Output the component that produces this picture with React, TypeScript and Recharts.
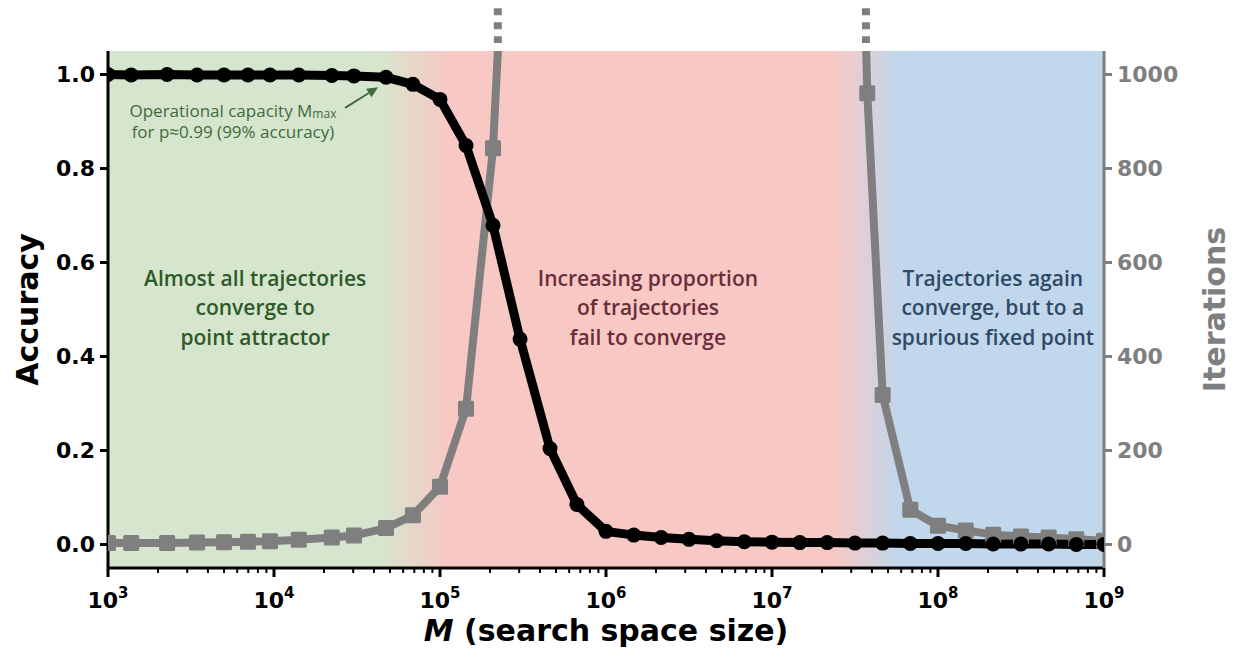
import React from 'react';
import {
  ComposedChart, Line, XAxis, YAxis, ReferenceArea, ReferenceLine, ReferenceDot, Label,
} from 'recharts';

// search space size M for every measured point (black curve)
const searchSize = [
  1000, 1380, 2270, 3440, 5000, 6970, 9460, 14100, 22300, 30300, 47300, 68700,
  100000, 143500, 208600, 303600, 460000, 668000,
  1e6, 1.47e6, 2.15e6, 3.16e6, 4.64e6, 6.81e6,
  1e7, 1.47e7, 2.15e7, 3.16e7, 4.64e7, 6.81e7,
  1e8, 1.47e8, 2.15e8, 3.16e8, 4.64e8, 6.81e8, 1e9,
];
const accuracy = [
  1.0, 0.999, 1.0, 0.999, 0.999, 0.999, 0.999, 0.999, 0.998, 0.997, 0.994, 0.979,
  0.947, 0.849, 0.679, 0.437, 0.204, 0.085,
  0.028, 0.02, 0.015, 0.011, 0.008, 0.006,
  0.005, 0.004, 0.004, 0.003, 0.003, 0.002,
  0.002, 0.002, 0.001, 0.001, 0.001, 0.0, 0.0,
];

// grey curve (iterations); values above the axis are clipped at the top
const iterSize = [
  1000, 1380, 2270, 3440, 5000, 6970, 9460, 14100, 22300, 30300, 47300, 68700,
  100000, 143500, 208600, 303600, 460000, 668000,
  1e6, 1.47e6, 2.15e6, 3.16e6, 4.64e6, 6.81e6,
  1e7, 1.47e7, 2.15e7, 3.16e7, 3.75e7, 4.64e7, 6.81e7,
  1e8, 1.47e8, 2.15e8, 3.16e8, 4.64e8, 6.81e8, 1e9,
];
const iterations = [
  3, 3, 3, 4, 5, 6, 7, 10, 15, 19, 35, 62,
  123, 289, 843, 2000, 2000, 2000,
  2000, 2000, 2000, 2000, 2000, 2000,
  2000, 2000, 2000, 2000, 960, 318, 74,
  40, 30, 21, 17, 15, 11, 8,
];

const accTicks = [0, 0.2, 0.4, 0.6, 0.8, 1.0];
const iterTicks = [0, 200, 400, 600, 800, 1000];
const decades = [3, 4, 5, 6, 7, 8, 9];

// background zones: green -> red -> blue
const greenEnd = 4.5e4;
const redStart = 1.1e5;
const redEnd = 2.4e7;
const blueStart = 5.9e7;
// where the grey curve leaves the top of the axes
const breakLeft = 2.23e5;
const breakRight = 3.68e7;

const xTicks: number[] = [];
decades.forEach((d) => {
  if (d === 9) { xTicks.push(1e9); return; }
  for (let k = 1; k <= 9; k++) xTicks.push(k * Math.pow(10, d));
});

const accData = searchSize.map((m, i) => ({ m, acc: accuracy[i] }));
const iterData = iterSize.map((m, i) => ({ m, it: iterations[i] }));

const frac = (m: number) => (Math.log10(m) - 3) / 6;

const AXIS_FONT = 'DejaVu Sans, sans-serif';
const NOTE_FONT = '"Open Sans", sans-serif';
const GREY = '#7f7f7f';
const NOTE_GREEN = '#3f6b3b';

const XTick = (props: any) => {
  const { x, y, payload } = props;
  const e = Math.log10(payload.value);
  const major = Math.abs(e - Math.round(e)) < 1e-6;
  return (
    <g>
      <line x1={x} x2={x} y1={y} y2={y + (major ? 9 : 5)} stroke="#000" strokeWidth={major ? 3 : 2} />
      {major && (
        <text x={x} y={y + 40} textAnchor="middle" fontFamily={AXIS_FONT} fontWeight="bold" fontSize={22} fill="#000">
          <tspan>10</tspan>
          <tspan dy={-10} fontSize={15}>{Math.round(e)}</tspan>
        </text>
      )}
    </g>
  );
};

const Square = (props: any) => {
  const { cx, cy, index } = props;
  if (cx == null || cy == null) return <g key={`s${index}`} />;
  return <rect key={`s${index}`} x={cx - 8} y={cy - 8} width={16} height={16} rx={1.5} fill={GREY} />;
};

const MultiText = ({ cx, cy, lines, color, size, gap }: any) => (
  <text x={cx} y={cy} textAnchor="middle" fontFamily={NOTE_FONT} fontWeight={600} fontSize={size} fill={color}>
    {lines.map((l: string, i: number) => (
      <tspan key={i} x={cx} y={cy + (i - (lines.length - 1) / 2) * gap} dominantBaseline="central">{l}</tspan>
    ))}
  </text>
);

const Arrow = (props: any) => {
  const { x1, y1, x2, y2 } = props;
  const ang = Math.atan2(y2 - y1, x2 - x1);
  const L = 11, W = 5;
  const bx = x2 - L * Math.cos(ang), by = y2 - L * Math.sin(ang);
  const px = -Math.sin(ang) * W, py = Math.cos(ang) * W;
  return (
    <g>
      <line x1={x1} y1={y1} x2={bx} y2={by} stroke={NOTE_GREEN} strokeWidth={2} />
      <polygon points={`${x2},${y2} ${bx + px},${by + py} ${bx - px},${by - py}`} fill={NOTE_GREEN} />
    </g>
  );
};

export default function App() {
  return (
    <div style={{ position: 'absolute', left: 0, top: 0, background: '#fff' }}>
      <ComposedChart width={1234} height={649} margin={{ top: 51, right: 60, bottom: 41, left: 48 }}>
        <defs>
          <linearGradient id="zones" x1="0" y1="0" x2="1" y2="0">
            <stop offset={frac(greenEnd)} stopColor="#d6e5cd" />
            <stop offset={frac(redStart)} stopColor="#f8c8c5" />
            <stop offset={frac(redEnd)} stopColor="#f8c8c5" />
            <stop offset={frac(blueStart)} stopColor="#c0d7ec" />
          </linearGradient>
        </defs>
        <XAxis
          dataKey="m" type="number" scale="log" domain={[1e3, 1e9]} allowDataOverflow
          ticks={xTicks} interval={0} height={40} tickSize={0} tickMargin={0} tickLine={false}
          axisLine={{ stroke: '#000', strokeWidth: 3 }} tick={<XTick />}
        >
          <Label content={(p: any) => {
            const vb = p.viewBox;
            return (
              <text x={vb.x + vb.width / 2} y={vb.y + 73} textAnchor="middle" fontFamily={AXIS_FONT} fontWeight="bold" fontSize={30} fill="#000">
                <tspan fontStyle="italic">M</tspan>
                <tspan> (search space size)</tspan>
              </text>
            );
          }} />
        </XAxis>
        <YAxis
          yAxisId="acc" orientation="left" type="number" domain={[-0.05, 1.05]} allowDataOverflow
          ticks={accTicks} width={60} tickSize={8} tickMargin={5} interval={0}
          tickFormatter={(v: number) => v.toFixed(1)}
          axisLine={{ stroke: '#000', strokeWidth: 3 }} tickLine={{ stroke: '#000', strokeWidth: 3 }}
          tick={{ fill: '#000', fontSize: 22, fontWeight: 'bold', fontFamily: AXIS_FONT }}
        >
          <Label content={(p: any) => {
            const vb = p.viewBox;
            const cx = vb.x - 21, cy = vb.y + vb.height / 2;
            return (
              <text x={cx} y={cy} transform={`rotate(-90, ${cx}, ${cy})`} textAnchor="middle" dominantBaseline="central"
                fontFamily={AXIS_FONT} fontWeight="bold" fontSize={30} fill="#000">Accuracy</text>
            );
          }} />
        </YAxis>
        <YAxis
          yAxisId="it" orientation="right" type="number" domain={[-50, 1050]} allowDataOverflow
          ticks={iterTicks} width={70} tickSize={8} tickMargin={5} interval={0}
          axisLine={{ stroke: GREY, strokeWidth: 3 }} tickLine={{ stroke: GREY, strokeWidth: 3 }}
          tick={{ fill: GREY, fontSize: 22, fontWeight: 'bold', fontFamily: AXIS_FONT, textAnchor: 'start' }}
        >
          <Label content={(p: any) => {
            const vb = p.viewBox;
            const cx = vb.x + 110, cy = vb.y + vb.height / 2;
            return (
              <text x={cx} y={cy} transform={`rotate(-90, ${cx}, ${cy})`} textAnchor="middle" dominantBaseline="central"
                fontFamily={AXIS_FONT} fontWeight="bold" fontSize={30} fill={GREY}>Iterations</text>
            );
          }} />
        </YAxis>

        <ReferenceArea yAxisId="acc" x1={1e3} x2={1e9} y1={-0.05} y2={1.05} fill="url(#zones)" fillOpacity={1} stroke="none" />

        <ReferenceDot yAxisId="acc" x={7700} y={0.505} r={0} ifOverflow="visible"
          shape={(p: any) => <MultiText cx={p.cx} cy={p.cy} size={21} gap={29.5} color="#2e5a28"
            lines={['Almost all trajectories', 'converge to', 'point attractor']} />} />
        <ReferenceDot yAxisId="acc" x={1.79e6} y={0.505} r={0} ifOverflow="visible"
          shape={(p: any) => <MultiText cx={p.cx} cy={p.cy} size={21} gap={29.5} color="#6b2d3a"
            lines={['Increasing proportion', 'of trajectories', 'fail to converge']} />} />
        <ReferenceDot yAxisId="acc" x={2.14e8} y={0.505} r={0} ifOverflow="visible"
          shape={(p: any) => <MultiText cx={p.cx} cy={p.cy} size={21} gap={29.5} color="#2f4a66"
            lines={['Trajectories again', 'converge, but to a', 'spurious fixed point']} />} />
        <ReferenceDot yAxisId="acc" x={5660} y={0.902} r={0} ifOverflow="visible"
          shape={(p: any) => (
            <text x={p.cx} y={p.cy} textAnchor="middle" fontFamily={NOTE_FONT} fontSize={17} fill={NOTE_GREEN}>
              <tspan x={p.cx} y={p.cy - 10.5} dominantBaseline="central">Operational capacity M<tspan fontSize={12} dy={3}>max</tspan></tspan>
              <tspan x={p.cx} y={p.cy + 10.5} dominantBaseline="central">for p≈0.99 (99% accuracy)</tspan>
            </text>
          )} />
        <ReferenceLine yAxisId="acc" ifOverflow="visible"
          segment={[{ x: 2.68e4, y: 0.929 }, { x: 4.24e4, y: 0.973 }]} shape={<Arrow />} />

        <ReferenceLine yAxisId="it" ifOverflow="visible" stroke={GREY} strokeWidth={8} strokeDasharray="7 7"
          segment={[{ x: breakLeft, y: 1141 }, { x: breakLeft, y: 1067 }]} />
        <ReferenceLine yAxisId="it" ifOverflow="visible" stroke={GREY} strokeWidth={8} strokeDasharray="7 7"
          segment={[{ x: breakRight, y: 1141 }, { x: breakRight, y: 1067 }]} />

        <Line yAxisId="it" data={iterData} dataKey="it" type="linear" stroke={GREY} strokeWidth={8}
          strokeLinejoin="round" dot={(p: any) => <Square {...p} />} activeDot={false} isAnimationActive={false} />
        <Line yAxisId="acc" data={accData} dataKey="acc" type="linear" stroke="#000" strokeWidth={9}
          strokeLinejoin="round" dot={{ r: 7.5, fill: '#000', stroke: 'none' }} activeDot={false} isAnimationActive={false} />
      </ComposedChart>
    </div>
  );
}
